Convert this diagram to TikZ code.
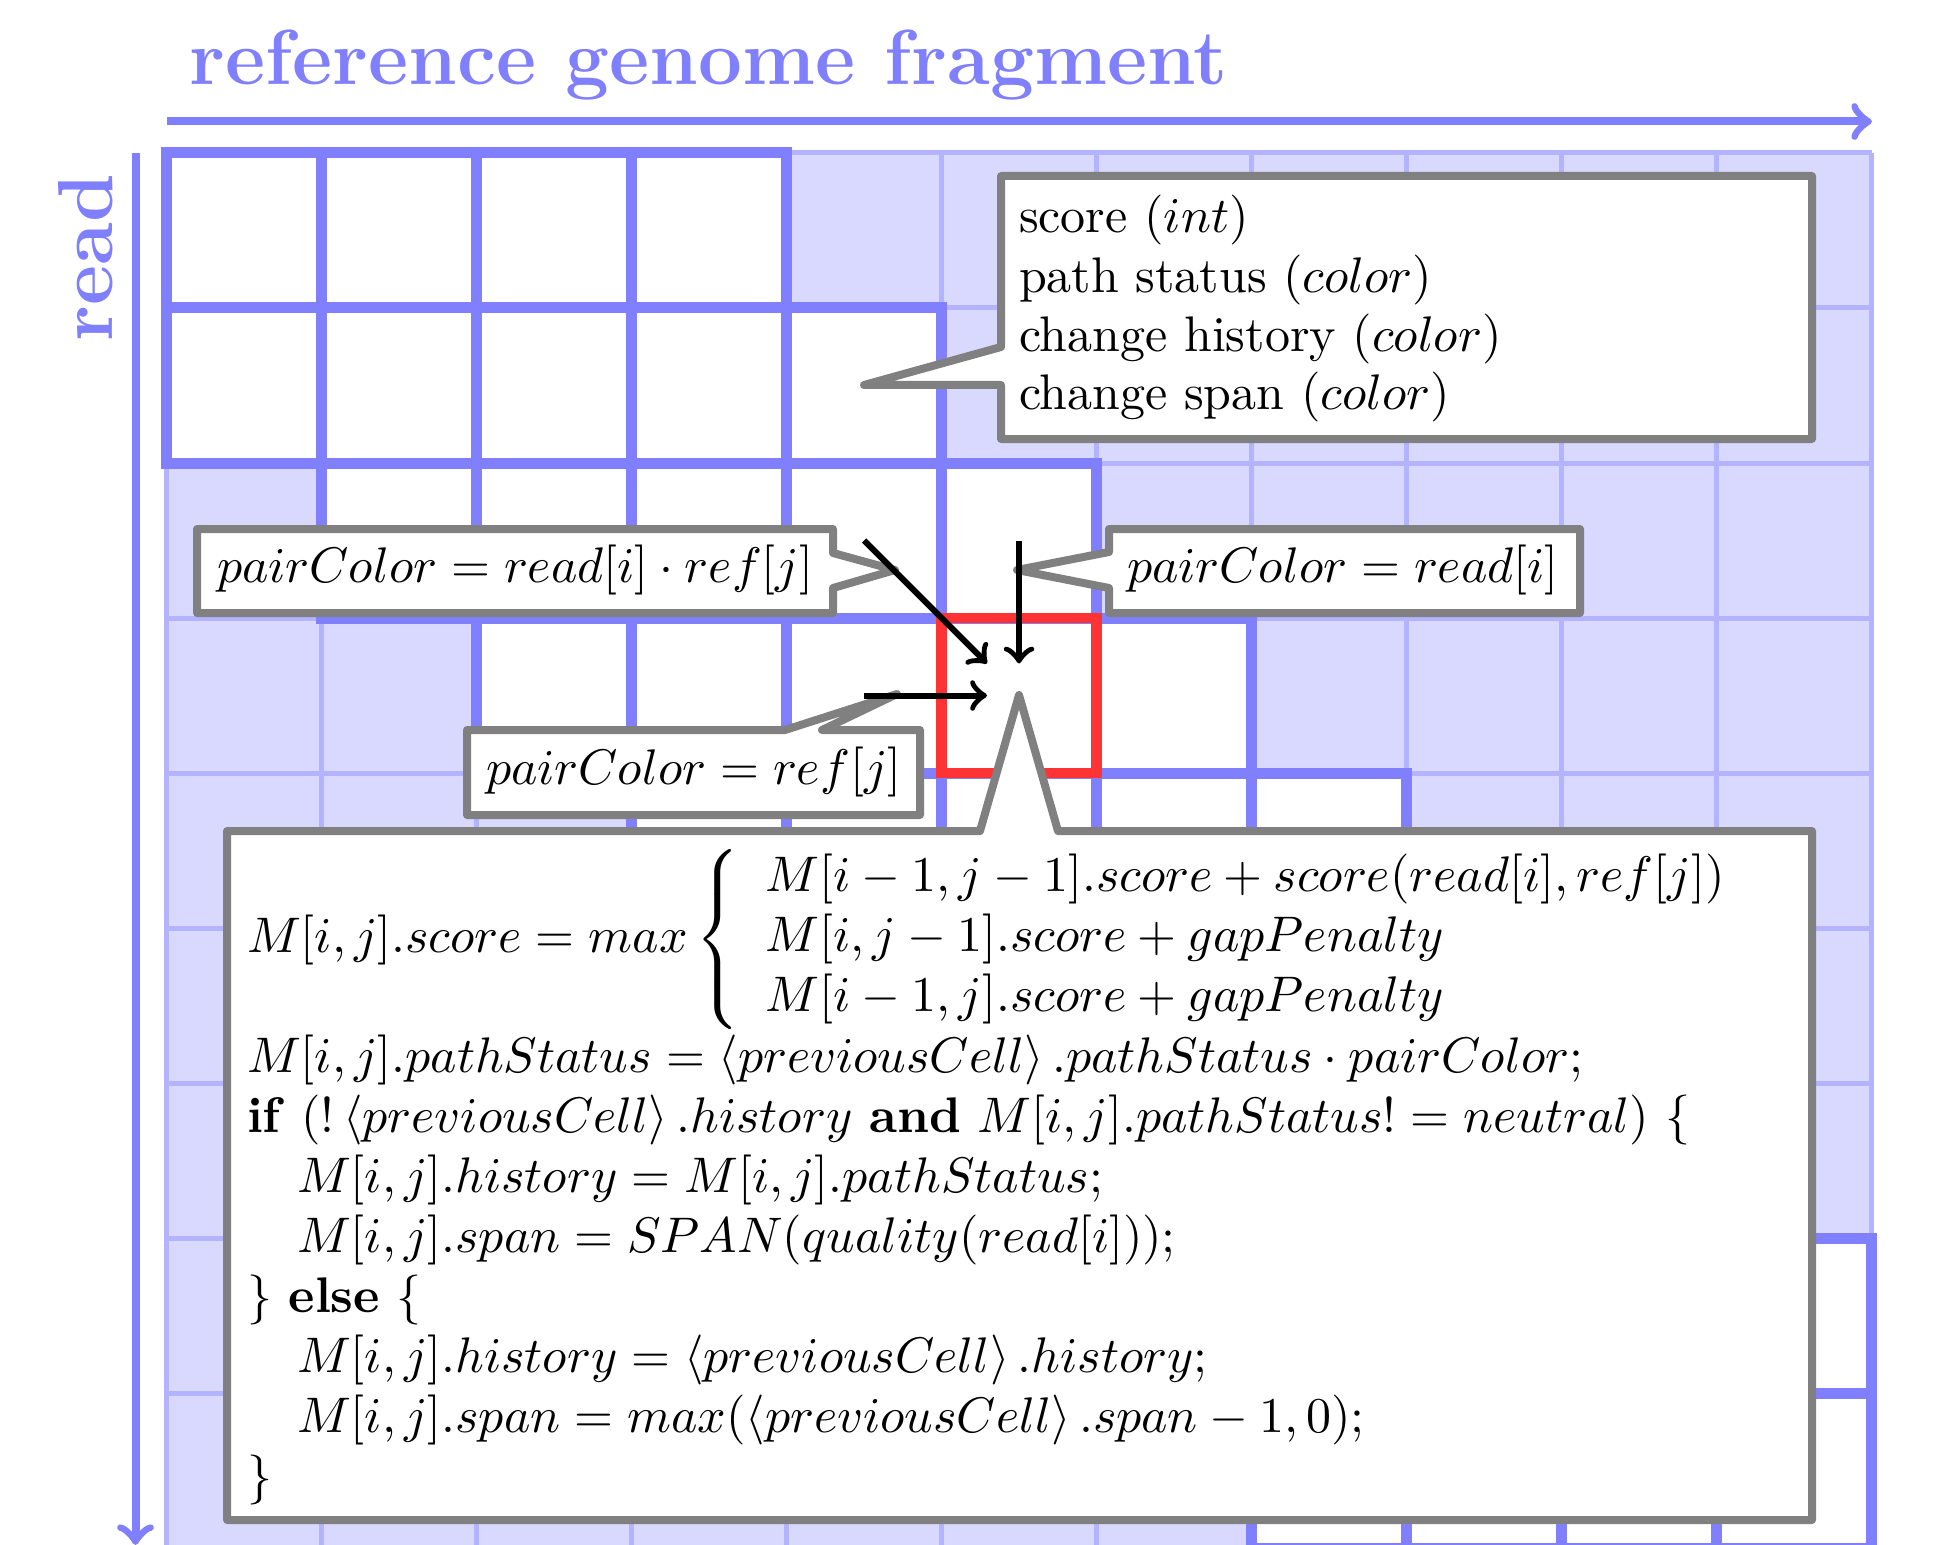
\documentclass[tikz,border=0pt]{standalone}
\definecolor{axisblue}{RGB}{128,128,255}
\definecolor{shadeblue}{RGB}{217,217,255}
\definecolor{gridblue}{RGB}{179,179,255}
\definecolor{boxgray}{RGB}{128,128,128}
\definecolor{cellred}{RGB}{255,51,51}
\tikzset{
  axisline/.style={draw=axisblue, line width=1.6pt, ->},
  axislabel/.style={text=axisblue, font=\LARGE\bfseries, inner sep=0pt, scale=0.903},
  gridline/.style={draw=gridblue, line width=1pt},
  bandfill/.style={fill=white},
  bandline/.style={draw=axisblue, line width=2.2pt},
  currentcell/.style={draw=cellred, line width=2.1pt},
  calloutbox/.style={draw=boxgray, fill=white, line width=1.6pt, line join=round},
  dependency/.style={draw=black, line width=1.2pt, ->},
  txt/.style={inner sep=0pt, anchor=base west},
}
\begin{document}
\begin{tikzpicture}[x=0.2pt, y=-0.2pt]
\useasboundingbox (0,0) rectangle (1933,1545);

% axes
\coordinate (hstart) at (167,121.5);
\coordinate (hend) at (1872,121.5);
\coordinate (vstart) at (135.5,153);
\coordinate (vend) at (135.5,1545);
\draw[axisline] (hstart) -- (hend);
\draw[axisline] (vstart) -- (vend);
\node[axislabel, anchor=base west] (title) at (189,85) {reference genome fragment};
\node[axislabel, rotate=90, anchor=base west] (readlabel) at (113,342) {read};

% grid
\begin{scope}
\clip (150,140) rectangle (1890,1545);
\fill[shadeblue] (166.5,153) rectangle (1871.5,1600);
\foreach \c in {0,...,11} \draw[gridline] ({166.5+155*\c},153) -- ({166.5+155*\c},1600);
\foreach \r in {0,...,9} \draw[gridline] (166.5,{153+155*\r}) -- (1871.5,{153+155*\r});
\foreach \r/\a/\b in {0/0/3,1/0/4,2/1/5,3/2/6,4/3/7,5/4/8,6/5/9,7/6/10,8/7/10}
  \foreach \c in {\a,...,\b}
    \fill[bandfill] ({166.5+155*\c},{153+155*\r}) rectangle ++(155,155);
\foreach \r/\a/\b in {0/0/3,1/0/4,2/1/5,3/2/6,4/3/7,5/4/8,6/5/9,7/6/10,8/7/10}
  \foreach \c in {\a,...,\b}
    \draw[bandline] ({166.5+155*\c},{153+155*\r}) rectangle ++(155,155);
\end{scope}
\draw[currentcell] (941.5,618) rectangle (1096.5,773);

% callouts
\draw[calloutbox] (1001,176) -- (1812,176) -- (1812,439) -- (1001,439) -- (1001,385) -- (864,385) -- (1001,347) -- cycle;
\draw[calloutbox] (197,529) -- (833,529) -- (833,553) -- (895,570) -- (833,588) -- (833,613) -- (197,613) -- cycle;
\draw[calloutbox] (1109,529) -- (1580,529) -- (1580,613) -- (1109,613) -- (1109,588) -- (1017,570) -- (1109,552) -- cycle;
\draw[calloutbox] (467,730) -- (785,730) -- (897,694) -- (822,730) -- (920,730) -- (920,815) -- (467,815) -- cycle;
\draw[calloutbox] (227,831) -- (980,831) -- (1019,695) -- (1058,831) -- (1812,831) -- (1812,1520) -- (227,1520) -- cycle;

% callout texts
\node[txt] (d1) at (1018,232) {score $(int)$};
\node[txt] (d2) at (1018,292) {path status $(color)$};
\node[txt] (d3) at (1018,351) {change history $(color)$};
\node[txt] (d4) at (1018,410) {change span $(color)$};

\node[txt] (lc) at (216,582) {$pairColor = read[i]\cdot ref[j]$};
\node[txt] (rc) at (1126,582) {$pairColor = read[i]$};
\node[txt] (bc) at (485,784) {$pairColor = ref[j]$};

\node[txt] (f1) at (246,952) {$M[i,j].score = max \left\{\begin{array}{l}
  M[i-1,j-1].score + score(read[i],ref[j])\\
  M[i,j-1].score + gapPenalty\\
  M[i-1,j].score + gapPenalty
  \end{array}\right.$};
\node[txt] (f2) at (246,1072) {$M[i,j].pathStatus = \left\langle previousCell\right\rangle .pathStatus\cdot pairColor;$};
\node[txt] (f3) at (246,1132) {\textbf{if} $(!\left\langle previousCell\right\rangle .history$ \textbf{and} $M[i,j].pathStatus != neutral)$ $\{$};
\node[txt] (f4) at (296,1192) {$M[i,j].history = M[i,j].pathStatus;$};
\node[txt] (f5) at (296,1252) {$M[i,j].span = SPAN(quality(read[i]));$};
\node[txt] (f6) at (246,1312) {$\}$ \textbf{else} $\{$};
\node[txt] (f7) at (296,1372) {$M[i,j].history = \left\langle previousCell\right\rangle .history;$};
\node[txt] (f8) at (296,1432) {$M[i,j].span = max(\left\langle previousCell\right\rangle .span - 1, 0);$};
\node[txt] (f9) at (246,1492) {$\}$};

% dependency arrows
\coordinate (ul) at (864,540.5);
\coordinate (up) at (1019,540.5);
\coordinate (lf) at (864,695.5);
\node[minimum size=12.4pt, inner sep=0pt] (target) at (1019,695.5) {};
\draw[dependency] (ul) -- (target);
\draw[dependency] (up) -- (target);
\draw[dependency] (lf) -- (target);
\end{tikzpicture}
\end{document}
